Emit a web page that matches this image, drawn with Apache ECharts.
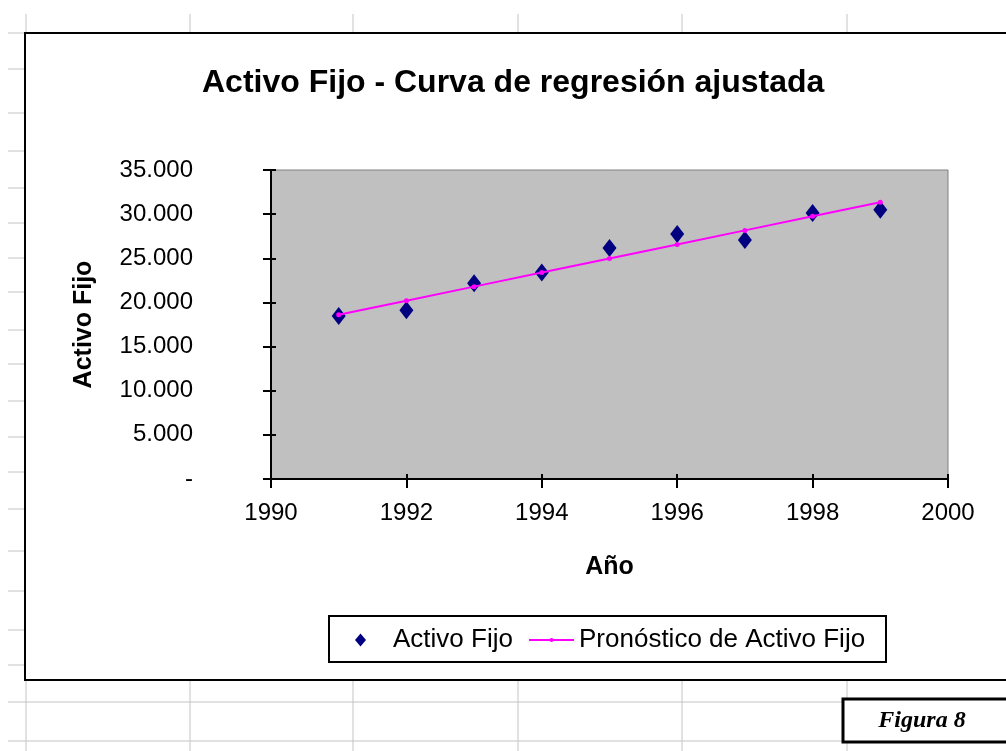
<!DOCTYPE html>
<html>
<head>
<meta charset="utf-8">
<script src="https://cdn.jsdelivr.net/npm/echarts@6/dist/echarts.min.js"></script>
<style>
  html, body {margin: 0; padding: 0; background: #fff;}
  #chart {width: 1006px; height: 751px;}
</style>
</head>
<body>
<div id="chart"></div>
<script>
// Activo Fijo vs. fitted regression line (Excel-style chart on a worksheet)

const years = [1991, 1992, 1993, 1994, 1995, 1996, 1997, 1998, 1999]
const activoFijo = [18470, 19110, 22170, 23380, 26170, 27760, 27080, 30140, 30510]
const pronostico = [18610, 20200, 21790, 23380, 24980, 26570, 28160, 29750, 31340]

const FONT = "'Liberation Sans', Arial, sans-serif"
const SHEET_LINE = "#c4c4c4"

// worksheet cell borders around the embedded chart (decoration only)
const colX = [26, 190, 353, 518, 682, 847]
const rowY = [69, 113, 151, 188, 223, 258, 292, 330, 364, 401, 437, 472, 509, 551, 591, 630, 665]

function thousands(v) {
  if (v === 0) return "-"
  return String(v).replace(/\B(?=(\d{3})+(?!\d))/g, ".")
}

function sheetGraphics() {
  const els = []
  colX.forEach(x => {
    els.push({type: "line", shape: {x1: x, y1: 14, x2: x, y2: 33}, style: {stroke: SHEET_LINE, lineWidth: 1}, z: -10})
    els.push({type: "line", shape: {x1: x, y1: 681, x2: x, y2: 751}, style: {stroke: SHEET_LINE, lineWidth: 1}, z: -10})
  })
  els.push({type: "line", shape: {x1: 8, y1: 33, x2: 26, y2: 33}, style: {stroke: SHEET_LINE, lineWidth: 1}, z: -10})
  rowY.forEach(y => {
    els.push({type: "line", shape: {x1: 8, y1: y, x2: 25, y2: y}, style: {stroke: SHEET_LINE, lineWidth: 1}, z: -10})
  })
  ;[702, 741].forEach(y => {
    els.push({type: "line", shape: {x1: 8, y1: y, x2: 1006, y2: y}, style: {stroke: SHEET_LINE, lineWidth: 1}, z: -10})
  })
  // chart frame
  els.push({
    type: "rect",
    shape: {x: 25, y: 33, width: 1000, height: 647},
    style: {fill: "#fff", stroke: "#000", lineWidth: 2},
    z: -5,
  })
  // legend frame
  els.push({
    type: "rect",
    shape: {x: 329, y: 616, width: 557, height: 46},
    style: {fill: "#fff", stroke: "#000", lineWidth: 2},
    z: 1,
  })
  // caption box
  els.push({
    type: "rect",
    shape: {x: 843, y: 699, width: 170, height: 43},
    style: {fill: "#fff", stroke: "#000", lineWidth: 3},
    z: 5,
  })
  els.push({
    type: "text",
    x: 922,
    y: 721,
    style: {
      text: "Figura 8",
      fill: "#000",
      font: "italic bold 24px 'Liberation Serif', 'Times New Roman', serif",
      textAlign: "center",
      textVerticalAlign: "middle",
    },
    z: 6,
  })
  return els
}

const chart = echarts.init(document.getElementById("chart"), null, {renderer: "canvas"})

chart.setOption({
  backgroundColor: "#fff",
  animation: false,
  textStyle: {fontFamily: FONT},
  graphic: sheetGraphics(),
  title: {
    text: "Activo Fijo - Curva de regresión ajustada",
    left: 202,
    top: 67,
    padding: 0,
    textStyle: {fontFamily: FONT, fontSize: 32, fontWeight: "bold", color: "#000"},
  },
  legend: [
    {
      left: 355,
      top: 625,
      padding: 0,
      itemWidth: 11,
      itemHeight: 13,
      textStyle: {fontFamily: FONT, fontSize: 26, color: "#000", lineHeight: 30, padding: [0, 0, 0, 22]},
      data: [{name: "Activo Fijo", icon: "diamond"}],
    },
    {
      left: 528,
      top: 625,
      padding: 0,
      itemWidth: 45,
      itemHeight: 5,
      textStyle: {fontFamily: FONT, fontSize: 26, color: "#000", lineHeight: 30},
      data: [{name: "Pronóstico de Activo Fijo"}],
    },
  ],
  grid: {
    left: 271,
    right: 58,
    top: 170,
    bottom: 272,
    show: true,
    backgroundColor: "#c0c0c0",
    borderColor: "#808080",
    borderWidth: 1,
  },
  xAxis: [
    {
      type: "value",
      min: 1990,
      max: 2000,
      interval: 2,
      name: "Año",
      nameLocation: "middle",
      nameGap: 76,
      nameTextStyle: {fontFamily: FONT, fontSize: 25, fontWeight: "bold", color: "#000"},
      axisLine: {show: true, onZero: false, lineStyle: {color: "#000", width: 2}},
      axisTick: {show: true, length: 9, lineStyle: {color: "#000", width: 2}},
      axisLabel: {fontFamily: FONT, fontSize: 24, color: "#000", margin: 22, formatter: v => String(v)},
      splitLine: {show: false},
    },
    {
      type: "value",
      min: 1990,
      max: 2000,
      interval: 2,
      position: "bottom",
      axisLine: {show: false},
      axisTick: {show: true, inside: true, length: 5, lineStyle: {color: "#000", width: 2}},
      axisLabel: {show: false},
      splitLine: {show: false},
    },
  ],
  yAxis: [
    {
      type: "value",
      min: 0,
      max: 35000,
      interval: 5000,
      name: "Activo Fijo",
      nameLocation: "middle",
      nameGap: 174,
      nameRotate: 90,
      nameTextStyle: {fontFamily: FONT, fontSize: 25, fontWeight: "bold", color: "#000"},
      axisLine: {show: true, onZero: false, lineStyle: {color: "#000", width: 2}},
      axisTick: {show: true, length: 8, lineStyle: {color: "#000", width: 2}},
      axisLabel: {fontFamily: FONT, fontSize: 24, color: "#000", margin: 78, formatter: thousands},
      splitLine: {show: false},
    },
    {
      type: "value",
      min: 0,
      max: 35000,
      interval: 5000,
      position: "left",
      axisLine: {show: false},
      axisTick: {show: true, inside: true, length: 5, lineStyle: {color: "#000", width: 2}},
      axisLabel: {show: false},
      splitLine: {show: false},
    },
  ],
  series: [
    {
      name: "Activo Fijo",
      type: "scatter",
      data: years.map((y, i) => [y, activoFijo[i]]),
      symbol: "diamond",
      symbolSize: [14, 18],
      itemStyle: {color: "#000080", opacity: 1},
      z: 3,
    },
    {
      name: "Pronóstico de Activo Fijo",
      type: "line",
      data: years.map((y, i) => [y, pronostico[i]]),
      smooth: false,
      symbol: "circle",
      symbolSize: 5,
      showSymbol: true,
      lineStyle: {color: "#ff00ff", width: 2},
      itemStyle: {color: "#ff00ff"},
      z: 4,
    },
  ],
})
</script>
</body>
</html>
